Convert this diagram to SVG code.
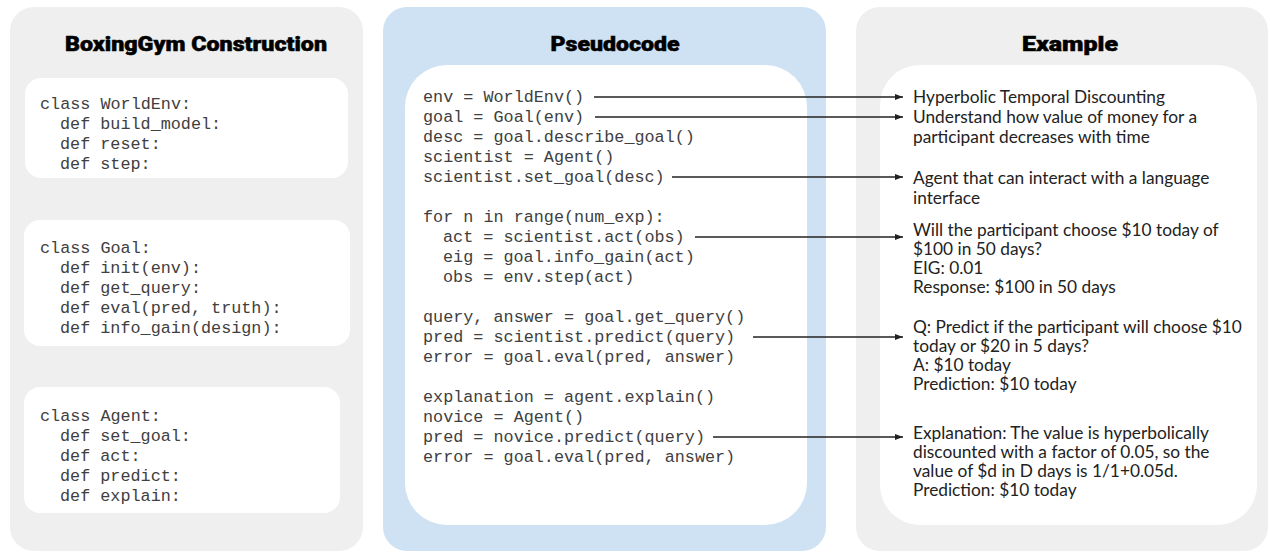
<svg xmlns="http://www.w3.org/2000/svg" width="1270" height="552" viewBox="0 0 1270 552">
<style>
.panel{fill:#efefef}
.blue{fill:#cfe2f3}
.box{fill:#ffffff}
.title{font-family:Roboto,"Liberation Sans",Arial,sans-serif;font-weight:900;font-size:20px;fill:#000;stroke:#000;stroke-width:0.5;text-anchor:middle}
.code{font-family:"Liberation Mono","Courier New",monospace;font-size:16.8px;fill:#404040}
.ex{font-family:Lato,"Noto Sans",sans-serif;font-size:17.3px;fill:#222}
.conn{stroke:#222;stroke-width:1.3;fill:none;marker-end:url(#ah)}
</style>
<defs>
<marker id="ah" viewBox="0 0 8 6" refX="8" refY="3" markerWidth="8" markerHeight="6" markerUnits="userSpaceOnUse" orient="auto">
<path d="M0,0 L8,3 L0,6 Z" fill="#222"/>
</marker>
</defs>
<rect class="panel" x="10" y="7" width="353" height="544" rx="24"/>
<rect class="blue" x="383" y="7" width="443" height="544" rx="24"/>
<rect class="panel" x="856" y="7" width="412" height="544" rx="24"/>
<text class="title" x="196" y="51" textLength="262" lengthAdjust="spacingAndGlyphs">BoxingGym Construction</text>
<text class="title" x="615" y="51" textLength="129" lengthAdjust="spacingAndGlyphs">Pseudocode</text>
<text class="title" x="1070" y="51" textLength="96" lengthAdjust="spacingAndGlyphs">Example</text>
<g id="worldenv">
<rect class="box" x="25" y="78" width="323" height="100" rx="16"/>
<text class="code" x="40" y="109">class WorldEnv:</text>
<text class="code" x="60" y="129">def build_model:</text>
<text class="code" x="60" y="149">def reset:</text>
<text class="code" x="60" y="169">def step:</text>
</g>
<g id="goal">
<rect class="box" x="24" y="220" width="326" height="126" rx="16"/>
<text class="code" x="40" y="253">class Goal:</text>
<text class="code" x="60" y="273">def init(env):</text>
<text class="code" x="60" y="293">def get_query:</text>
<text class="code" x="60" y="313">def eval(pred, truth):</text>
<text class="code" x="60" y="333">def info_gain(design):</text>
</g>
<g id="agent">
<rect class="box" x="24" y="387" width="316" height="126" rx="16"/>
<text class="code" x="40" y="421">class Agent:</text>
<text class="code" x="60" y="441">def set_goal:</text>
<text class="code" x="60" y="461">def act:</text>
<text class="code" x="60" y="481">def predict:</text>
<text class="code" x="60" y="501">def explain:</text>
</g>
<g id="pseudocode">
<rect class="box" x="405" y="65" width="402" height="460" rx="42"/>
<text class="code" x="423" y="102">env = WorldEnv()</text>
<text class="code" x="423" y="122">goal = Goal(env)</text>
<text class="code" x="423" y="142">desc = goal.describe_goal()</text>
<text class="code" x="423" y="162">scientist = Agent()</text>
<text class="code" x="423" y="182">scientist.set_goal(desc)</text>
<text class="code" x="423" y="222">for n in range(num_exp):</text>
<text class="code" x="443" y="242">act = scientist.act(obs)</text>
<text class="code" x="443" y="262">eig = goal.info_gain(act)</text>
<text class="code" x="443" y="282">obs = env.step(act)</text>
<text class="code" x="423" y="322">query, answer = goal.get_query()</text>
<text class="code" x="423" y="342">pred = scientist.predict(query)</text>
<text class="code" x="423" y="362">error = goal.eval(pred, answer)</text>
<text class="code" x="423" y="402">explanation = agent.explain()</text>
<text class="code" x="423" y="422">novice = Agent()</text>
<text class="code" x="423" y="442">pred = novice.predict(query)</text>
<text class="code" x="423" y="462">error = goal.eval(pred, answer)</text>
</g>
<g id="example">
<rect class="box" x="880" y="65" width="377" height="460" rx="40"/>
<text class="ex" x="913" y="103">Hyperbolic Temporal Discounting</text>
<text class="ex" x="913" y="123">Understand how value of money for a</text>
<text class="ex" x="913" y="143">participant decreases with time</text>
<text class="ex" x="913" y="184">Agent that can interact with a language</text>
<text class="ex" x="913" y="204">interface</text>
<text class="ex" x="913" y="236">Will the participant choose $10 today of</text>
<text class="ex" x="913" y="255">$100 in 50 days?</text>
<text class="ex" x="913" y="274">EIG: 0.01</text>
<text class="ex" x="913" y="293">Response: $100 in 50 days</text>
<text class="ex" x="913" y="333">Q: Predict if the participant will choose $10</text>
<text class="ex" x="913" y="352">today or $20 in 5 days?</text>
<text class="ex" x="913" y="371">A: $10 today</text>
<text class="ex" x="913" y="390">Prediction: $10 today</text>
<text class="ex" x="913" y="439">Explanation: The value is hyperbolically</text>
<text class="ex" x="913" y="458">discounted with a factor of 0.05, so the</text>
<text class="ex" x="913" y="477">value of $d in D days is 1/1+0.05d.</text>
<text class="ex" x="913" y="496">Prediction: $10 today</text>
</g>
<g id="connectors">
<line class="conn" x1="594" y1="97" x2="903" y2="97"/>
<line class="conn" x1="595" y1="117" x2="903" y2="117"/>
<line class="conn" x1="672" y1="177" x2="903" y2="177"/>
<line class="conn" x1="695" y1="237" x2="903" y2="237"/>
<line class="conn" x1="753" y1="337" x2="903" y2="337"/>
<line class="conn" x1="713" y1="437" x2="903" y2="437"/>
</g>
</svg>
